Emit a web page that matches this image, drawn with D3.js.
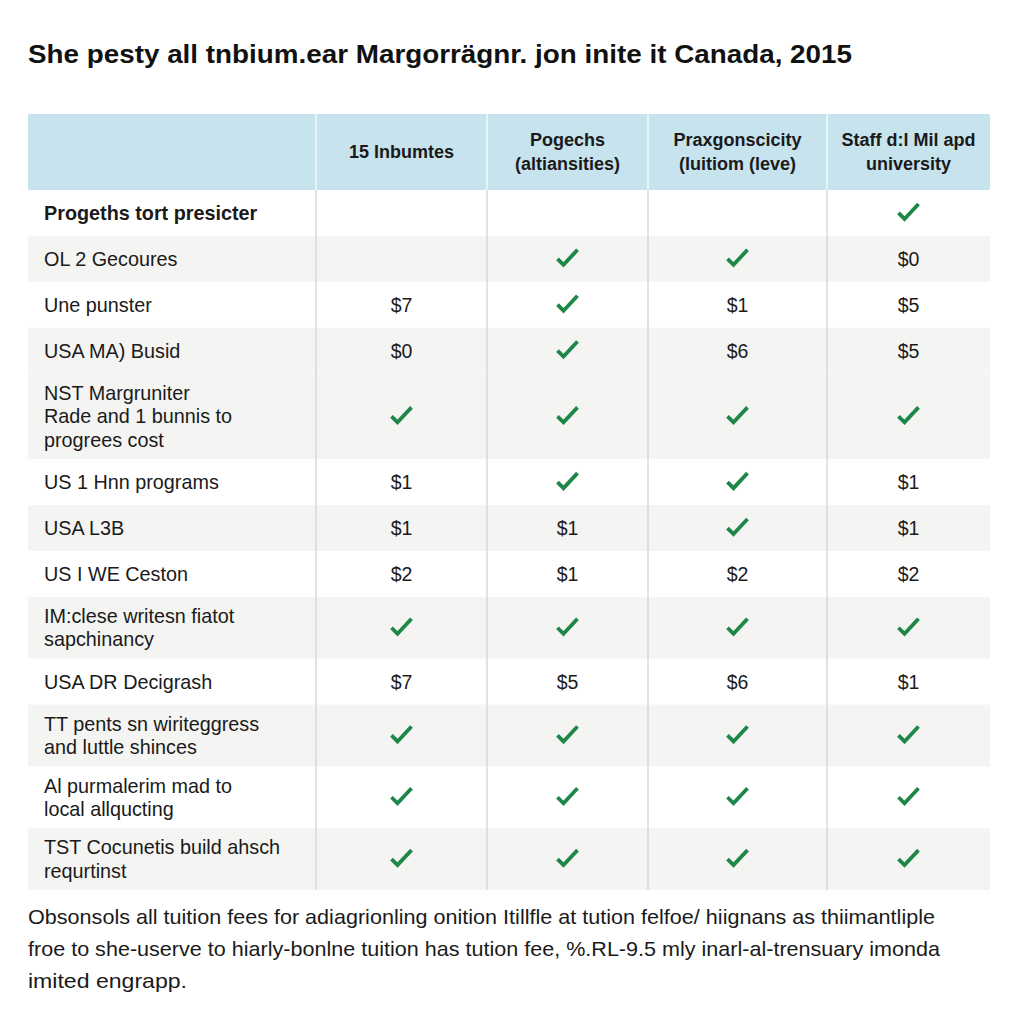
<!DOCTYPE html>
<html><head><meta charset="utf-8">
<script src="https://cdn.jsdelivr.net/npm/d3@7"></script>
<style>html,body{margin:0;padding:0;background:#fff}svg{display:block}</style>
</head><body>
<script>
// ---- data ----
const title = "She pesty all tnbium.ear Margorrägnr. jon inite it Canada,  2015";
const columns = [["15 Inbumtes"], ["Pogechs", "(altiansities)"], ["Prаxgonscicity", "(luitiom (leve)"], ["Staff d:l Mil apd", "university"]];
const rowLabels = [
  ["Progeths tort presicter"],
  ["OL 2 Gecoures"],
  ["Une punster"],
  ["USA MA) Busid"],
  ["NST Margruniter", "Rade and 1 bunnis to", "progrees cost"],
  ["US 1 Hnn programs"],
  ["USA L3B"],
  ["US I WE Ceston"],
  ["IM:clese writesn fiatot", "sapchinancy"],
  ["USA DR Decigrash"],
  ["TT pents sn wiriteggress", "and luttle shinces"],
  ["Al purmalerim mad to", "local allqucting"],
  ["TST Cocunetis build ahsch", "requrtinst"]
];
// "v" = check mark, number = dollar amount, null = empty
const col1Values = [null, null, 7, 0, "v", 1, 1, 2, "v", 7, "v", "v", "v"];
const col2Values = [null, "v", "v", "v", "v", "v", 1, 1, "v", 5, "v", "v", "v"];
const col3Values = [null, "v", 1, 6, "v", "v", "v", 2, "v", 6, "v", "v", "v"];
const col4Values = ["v", 0, 5, 5, "v", 1, 1, 2, "v", 1, "v", "v", "v"];
const stripedRows = [1, 3, 4, 6, 8, 10, 12];
const footnote = [
  "Obsonsols all tuition fees for adiagrionling onition Itillfle at tution felfoe/ hiignans as thiimantliple",
  "froe to she-userve to hiarly-bonlne tuition has tution fee,  %.RL-9.5 mly inarl-al-trensuary imonda",
  "imited engrapp."
];

// ---- layout ----
const W = 1024, H = 1024;
const tableLeft = 28, tableRight = 990, headTop = 114, headBottom = 190, bodyBottom = 890;
const colEdges = [tableLeft, 316, 487, 648, 827, tableRight];
const values = [col1Values, col2Values, col3Values, col4Values];
const font = "'Liberation Sans', Arial, sans-serif";

const svg = d3.select("body").append("svg").attr("width", W).attr("height", H);
svg.append("rect").attr("width", W).attr("height", H).attr("fill", "#fff");

// Title
svg.append("text").attr("x", 28).attr("y", 63)
  .attr("font-family", font).attr("font-weight", "bold").attr("font-size", 25)
  .attr("fill", "#111").attr("textLength", 824).attr("lengthAdjust", "spacingAndGlyphs")
  .text(title);

// Row heights from line count
const unit = d3.scaleOrdinal().domain([1, 2, 3]).range([46, 62, 86]);
const heights = rowLabels.map(l => unit(l.length));
const total = d3.sum(heights);
const yScale = d3.scaleLinear().domain([0, total]).range([headBottom, bodyBottom]);
const cum = [0]; heights.forEach(h => cum.push(cum[cum.length - 1] + h));
const rowTop = i => yScale(cum[i]);
const rowBot = i => yScale(cum[i + 1]);

// Header background
svg.append("rect").attr("x", tableLeft).attr("y", headTop)
  .attr("width", tableRight - tableLeft).attr("height", headBottom - headTop).attr("fill", "#c7e3ee");

// Stripes
svg.selectAll("rect.stripe").data(stripedRows).join("rect").attr("class", "stripe")
  .attr("x", tableLeft).attr("width", tableRight - tableLeft)
  .attr("y", d => rowTop(d)).attr("height", d => rowBot(d) - rowTop(d))
  .attr("fill", "#f4f4f2");

// Vertical dividers
const inner = colEdges.slice(1, -1);
svg.selectAll("line.vh").data(inner).join("line").attr("class", "vh")
  .attr("x1", d => d).attr("x2", d => d).attr("y1", headTop).attr("y2", headBottom)
  .attr("stroke", "#f2f8fb").attr("stroke-width", 1.5);
svg.selectAll("line.vb").data(inner).join("line").attr("class", "vb")
  .attr("x1", d => d).attr("x2", d => d).attr("y1", headBottom).attr("y2", bodyBottom)
  .attr("stroke", "#d9d9d9").attr("stroke-width", 1.5);

// Header text
columns.forEach((lines, c) => {
  const cx = (colEdges[c + 1] + colEdges[c + 2]) / 2;
  const cy = (headTop + headBottom) / 2;
  const t = svg.append("text").attr("font-family", font).attr("font-weight", "bold")
    .attr("font-size", 18).attr("fill", "#1a1a1a").attr("text-anchor", "middle");
  lines.forEach((ln, k) => {
    t.append("tspan").attr("x", cx)
      .attr("y", cy + 6 + (k - (lines.length - 1) / 2) * 24).text(ln);
  });
});

// Row labels
rowLabels.forEach((lines, i) => {
  const cy = (rowTop(i) + rowBot(i)) / 2;
  const t = svg.append("text").attr("font-family", font).attr("font-size", 19.8)
    .attr("font-weight", i === 0 ? "bold" : "normal").attr("fill", "#1a1a1a");
  lines.forEach((ln, k) => {
    t.append("tspan").attr("x", 44)
      .attr("y", cy + 7 + (k - (lines.length - 1) / 2) * 23.5).text(ln);
  });
});

// Cells
const checkPath = "M-10,1 L-4,7 L10,-8";
values.forEach((col, c) => {
  const cx = (colEdges[c + 1] + colEdges[c + 2]) / 2;
  col.forEach((v, i) => {
    if (v === null) return;
    const cy = (rowTop(i) + rowBot(i)) / 2;
    if (v === "v") {
      svg.append("path").attr("d", checkPath)
        .attr("transform", `translate(${cx},${cy - 1})`)
        .attr("fill", "none").attr("stroke", "#1e8747").attr("stroke-width", 3.8)
        .attr("stroke-linecap", "butt").attr("stroke-linejoin", "miter");
    } else {
      svg.append("text").attr("x", cx).attr("y", cy + 7)
        .attr("text-anchor", "middle").attr("font-family", font).attr("font-size", 19.5)
        .attr("fill", "#1a1a1a").text("$" + v);
    }
  });
});

// Footnote
const fnLens = [907, 912, 159];
footnote.forEach((ln, k) => {
  const t = svg.append("text").attr("x", 28).attr("y", 924 + k * 32)
    .attr("font-family", font).attr("font-size", 21).attr("fill", "#1a1a1a").text(ln);
  if (fnLens[k]) t.attr("textLength", fnLens[k]).attr("lengthAdjust", "spacingAndGlyphs");
});
</script>
</body></html>
